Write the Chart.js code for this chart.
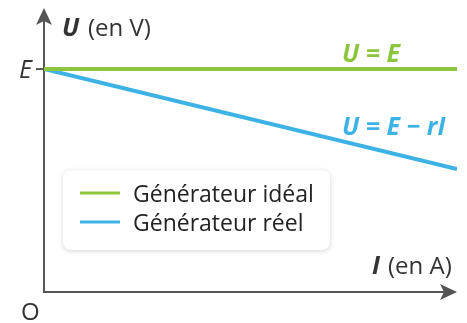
<!DOCTYPE html>
<html>
<head>
<meta charset="utf-8">
<script src="https://cdn.jsdelivr.net/npm/chart.js@4"></script>
<style>
  html, body { margin: 0; padding: 0; background: #fff; }
  #wrap { width: 467px; height: 323px; position: relative; }
</style>
</head>
<body>
<div id="wrap"><canvas id="chart" width="467" height="323"></canvas></div>
<script>
// current I (arbitrary units), voltages U (arbitrary units, E = 7.85)
const current = [0, 10];
const uIdeal = [7.85, 7.85];
const uReal = [7.85, 4.33];
const seriesNames = ["Générateur idéal", "Générateur réel"];
const eqLabels = ["U = E", "U = E − rI"];

const GREEN = "#8cc63e";
const BLUE = "#3db3e5";
const AXIS = "#555555";
const FONT = "'Open Sans', sans-serif";

function arrowHead(ctx, x, y, dir) {
  // dir: "up" or "right"
  ctx.save();
  ctx.translate(x, y);
  if (dir === "right") ctx.rotate(Math.PI / 2);
  ctx.beginPath();
  ctx.moveTo(0, 0);
  ctx.lineTo(-8, 17);
  ctx.lineTo(0, 13);
  ctx.lineTo(8, 17);
  ctx.closePath();
  ctx.fillStyle = AXIS;
  ctx.fill();
  ctx.restore();
}

const decor = {
  id: "decor",
  beforeDatasetsDraw(chart) {
    const ctx = chart.ctx;
    const xs = chart.scales.x, ys = chart.scales.y;
    const x0 = xs.getPixelForValue(0), y0 = ys.getPixelForValue(0);
    const xEnd = xs.getPixelForValue(10), yTop = ys.getPixelForValue(10);
    const yE = ys.getPixelForValue(uIdeal[0]);

    ctx.save();
    ctx.strokeStyle = AXIS;
    ctx.lineWidth = 2;
    ctx.beginPath();
    ctx.moveTo(x0, yTop + 10);
    ctx.lineTo(x0, y0);
    ctx.lineTo(xEnd - 10, y0);
    ctx.stroke();
    // tick at E
    ctx.beginPath();
    ctx.moveTo(x0 - 8, yE);
    ctx.lineTo(x0, yE);
    ctx.stroke();
    ctx.restore();
    arrowHead(ctx, x0, yTop, "up");
    arrowHead(ctx, xEnd, y0, "right");
  },
  afterDatasetsDraw(chart) {
    const ctx = chart.ctx;
    ctx.save();
    ctx.textBaseline = "alphabetic";
    ctx.fillStyle = "#333";

    // axis labels
    ctx.font = "italic bold 25px " + FONT;
    ctx.fillText("U", 62, 36);
    ctx.font = "24px " + FONT;
    ctx.fillText("(en V)", 88, 36);
    ctx.font = "italic bold 25px " + FONT;
    ctx.fillText("I", 372, 274);
    ctx.font = "24px " + FONT;
    ctx.fillText("(en A)", 388, 274);
    ctx.font = "24px " + FONT;
    ctx.fillText("O", 21, 320);
    ctx.font = "italic 25px " + FONT;
    ctx.fillText("E", 19, 78);

    // equations
    ctx.font = "italic bold 25px " + FONT;
    ctx.fillStyle = GREEN;
    ctx.fillText(eqLabels[0], 342, 62);
    ctx.fillStyle = BLUE;
    ctx.fillText(eqLabels[1], 342, 135);

    // legend box
    const bx = 63, by = 170, bw = 267, bh = 80;
    ctx.shadowColor = "rgba(0,0,0,0.18)";
    ctx.shadowBlur = 5;
    ctx.shadowOffsetY = 1;
    ctx.fillStyle = "#fff";
    ctx.beginPath();
    ctx.roundRect(bx, by, bw, bh, 8);
    ctx.fill();
    ctx.shadowColor = "transparent";

    const colors = [GREEN, BLUE];
    seriesNames.forEach((name, i) => {
      const ly = 193 + i * 29;
      ctx.strokeStyle = colors[i];
      ctx.lineWidth = 3;
      ctx.beginPath();
      ctx.moveTo(80, ly);
      ctx.lineTo(120, ly);
      ctx.stroke();
      ctx.fillStyle = "#222";
      ctx.font = "23px " + FONT;
      ctx.fillText(name, 133, ly + 9);
    });
    ctx.restore();
  }
};

new Chart(document.getElementById("chart"), {
  type: "line",
  data: {
    labels: current,
    datasets: [
      {
        label: seriesNames[0],
        data: current.map((x, i) => ({ x, y: uIdeal[i] })),
        borderColor: GREEN,
        borderWidth: 4,
        pointRadius: 0
      },
      {
        label: seriesNames[1],
        data: current.map((x, i) => ({ x, y: uReal[i] })),
        borderColor: BLUE,
        borderWidth: 4,
        pointRadius: 0
      }
    ]
  },
  options: {
    responsive: false,
    animation: false,
    layout: { padding: { left: 44, right: 10, top: 8, bottom: 31 } },
    plugins: { legend: { display: false }, tooltip: { enabled: false } },
    scales: {
      x: { type: "linear", min: 0, max: 10, display: false },
      y: { min: 0, max: 10, display: false }
    }
  },
  plugins: [decor]
});
</script>
</body>
</html>
